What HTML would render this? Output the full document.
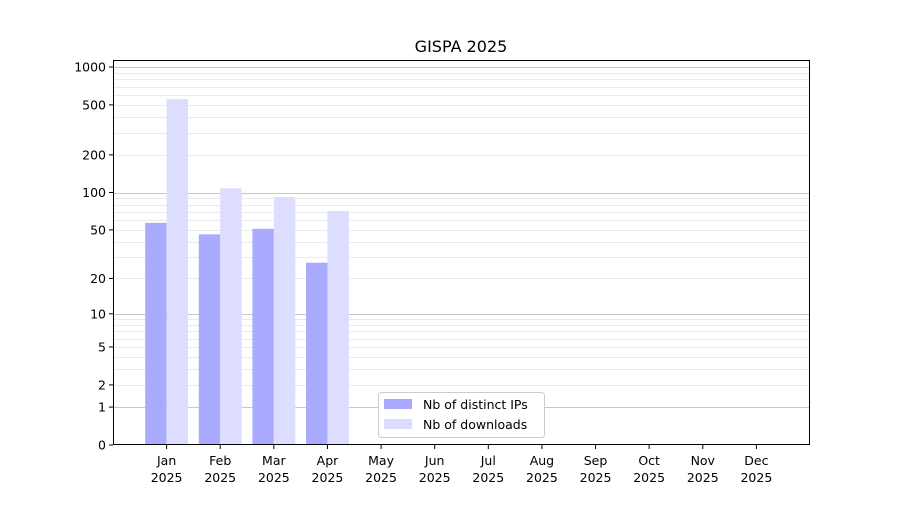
<!DOCTYPE html>
<html><head><meta charset="utf-8"><style>
body{margin:0;background:#fff;}
svg text{font-family:"DejaVu Sans","Liberation Sans",sans-serif;fill:#000;}
</style></head><body>
<svg id="chart" width="900" height="500" xmlns="http://www.w3.org/2000/svg">
<rect width="900" height="500" fill="#fff"/>
<text x="461" y="52" font-size="16" text-anchor="middle">GISPA 2025</text>
<g id="grid"></g>
<g id="bars"></g>
<rect x="113.5" y="60.5" width="696" height="384" fill="none" stroke="#000" stroke-width="1"/>
<g id="yaxis"></g>
<g id="xaxis"></g>
<g>
<rect x="378.5" y="392.5" width="166" height="45" rx="3" fill="#fff" stroke="#ccc"/>
<rect x="384" y="399" width="28" height="10" fill="#aaaaff"/>
<text x="423" y="409" font-size="12.5">Nb of distinct IPs</text>
<rect x="384" y="419" width="28" height="10" fill="#ddddff"/>
<text x="423" y="429" font-size="12.5">Nb of downloads</text>
</g>
</svg>
<script>
const months = ["Jan","Feb","Mar","Apr","May","Jun","Jul","Aug","Sep","Oct","Nov","Dec"];
const distinctIPs = [57,46,51,27,0,0,0,0,0,0,0,0];
const downloads = [556,108,92,71,0,0,0,0,0,0,0,0];
const yTicks = [0,1,2,5,10,20,50,100,200,500,1000];
const yMajor = [1,10,100,1000];
const yMinor = [2,3,4,5,6,7,8,9,20,30,40,50,60,70,80,90,200,300,400,500,600,700,800,900];

const NS="http://www.w3.org/2000/svg";
const X0=113,X1=810,Y0=445,Y1=60;
const yTop=Math.log10(1138);
function ys(v){return Y0-(Math.log10(1+v)/yTop)*(Y0-Y1);}
function xs(i){return X0+(i+1)/13*(X1-X0);}
function mk(t,a,p){const e=document.createElementNS(NS,t);for(const k in a)e.setAttribute(k,a[k]);p.appendChild(e);return e;}
const grid=document.getElementById('grid'),bars=document.getElementById('bars'),ya=document.getElementById('yaxis'),xa=document.getElementById('xaxis');
yMinor.forEach(v=>{const y=Math.round(ys(v))+0.5;const l=mk('line',{x1:X0,x2:X1,y1:y,y2:y,stroke:'#ebebeb','stroke-width':1},grid);

});
yMajor.forEach(v=>{const y=Math.round(ys(v))+0.5;const l=mk('line',{x1:X0,x2:X1,y1:y,y2:y,stroke:'#c8c8c8','stroke-width':1},grid);

});
const bw=(X1-X0)/13*0.4;
months.forEach((m,i)=>{
 if(distinctIPs[i]>0){const r=mk('rect',{x:xs(i)-bw,y:ys(distinctIPs[i]),width:bw,height:Y0-ys(distinctIPs[i]),fill:'#aaaaff'},bars);
 
 }
 if(downloads[i]>0){const r=mk('rect',{x:xs(i),y:ys(downloads[i]),width:bw,height:Y0-ys(downloads[i]),fill:'#ddddff'},bars);
 
 }
 mk('line',{x1:xs(i),x2:xs(i),y1:Y0,y2:Y0+4,stroke:'#000'},xa);
 const t=mk('text',{x:xs(i),y:Y0+20,'font-size':12.5,'text-anchor':'middle'},xa);t.textContent=m;
 
 
 const t2=mk('text',{x:xs(i),y:Y0+37,'font-size':12.5,'text-anchor':'middle'},xa);t2.textContent='2025';
 
 
});
yTicks.forEach(v=>{mk('line',{x1:X0-4,x2:X0,y1:ys(v),y2:ys(v),stroke:'#000'},ya);
 const t=mk('text',{x:X0-7,y:ys(v)+4.5,'font-size':12.5,'text-anchor':'end'},ya);t.textContent=v;
 
 });
</script>
</body></html>
